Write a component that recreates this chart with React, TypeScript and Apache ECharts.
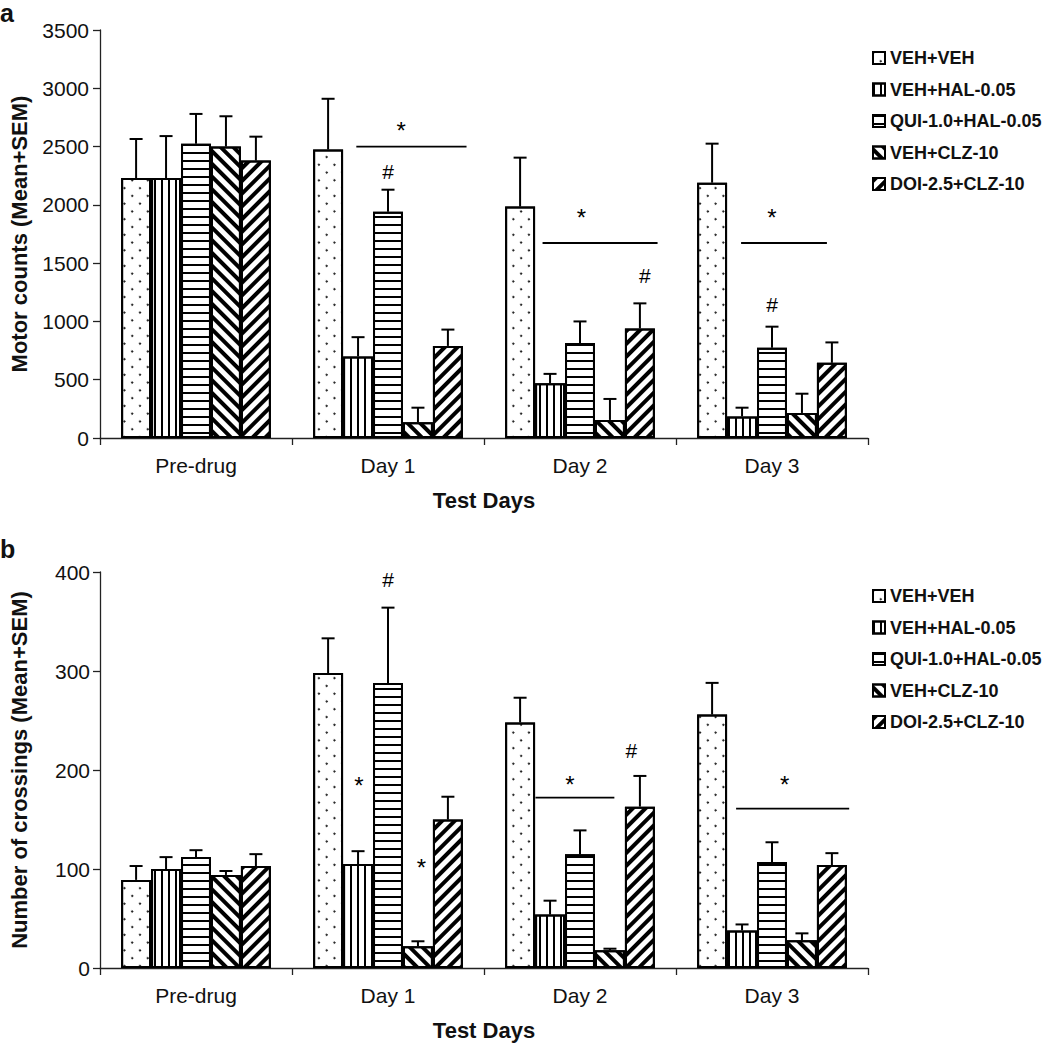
import React, { useEffect, useRef } from 'react';
import * as echarts from 'echarts';

const categories = ['Pre-drug', 'Day 1', 'Day 2', 'Day 3'];
const groups = ['VEH+VEH', 'VEH+HAL-0.05', 'QUI-1.0+HAL-0.05', 'VEH+CLZ-10', 'DOI-2.5+CLZ-10'];
const motorTicks = [0, 500, 1000, 1500, 2000, 2500, 3000, 3500];
const crossingTicks = [0, 100, 200, 300, 400];

// Panel a: motor counts (mean, SEM)
const motorVehVeh = [2230, 2475, 1985, 2190];
const motorVehHal = [2230, 700, 470, 185];
const motorQuiHal = [2525, 1940, 815, 775];
const motorVehClz = [2500, 135, 155, 215];
const motorDoiClz = [2380, 790, 940, 645];
const motorSemVehVeh = [335, 435, 420, 335];
const motorSemVehHal = [360, 165, 80, 75];
const motorSemQuiHal = [255, 190, 185, 180];
const motorSemVehClz = [260, 125, 180, 165];
const motorSemDoiClz = [205, 140, 215, 175];

// Panel b: number of crossings (mean, SEM)
const crossVehVeh = [89, 298, 248, 256];
const crossVehHal = [100, 105, 54, 38];
const crossQuiHal = [112, 288, 115, 107];
const crossVehClz = [94, 22, 18, 28];
const crossDoiClz = [103, 150, 163, 104];
const crossSemVehVeh = [14, 35, 25, 32];
const crossSemVehHal = [12, 13, 14, 6];
const crossSemQuiHal = [7, 76, 24, 20];
const crossSemVehClz = [4, 5, 1.5, 7];
const crossSemDoiClz = [12, 23, 31, 12];

// Significance annotations, in data units (x: category index scale)
const motorStars = [[1.068, 2640], [2.007, 1895], [3.0, 1895]];
const motorHashes = [[1.0, 2282], [2.338, 1398], [3.0, 1141]];
const motorSigLines = [[0.835, 1.409, 2500], [1.805, 2.404, 1673], [2.839, 3.286, 1673]];
const crossStars = [[0.849, 184], [1.174, 102], [1.947, 185], [3.066, 185]];
const crossHashes = [[1.0, 392], [2.268, 220]];
const crossSigLines = [[1.768, 2.179, 172], [2.813, 3.402, 161]];

const FONT = '"Liberation Sans", Arial, Helvetica, sans-serif';
const INK = '#111';
const GAP = 0.22;

const decals: any[] = [
  { symbol: 'circle', symbolSize: 1, dashArrayX: [2, 8.6], dashArrayY: [2, 8.6], rotation: Math.PI / 4, color: '#000', backgroundColor: '#fff' },
  { symbol: 'rect', symbolSize: 1, dashArrayX: [2, 5], dashArrayY: [10, 0], color: '#000', backgroundColor: '#fff' },
  { symbol: 'rect', symbolSize: 1, dashArrayX: [10, 0], dashArrayY: [2, 5.3], color: '#000', backgroundColor: '#fff' },
  { symbol: 'rect', symbolSize: 1, dashArrayX: [10, 0], dashArrayY: [3.6, 5], rotation: Math.PI / 4, color: '#000', backgroundColor: '#fff' },
  { symbol: 'rect', symbolSize: 1, dashArrayX: [10, 0], dashArrayY: [3.6, 5], rotation: -Math.PI / 4, color: '#000', backgroundColor: '#fff' },
];

const motorMeans = [motorVehVeh, motorVehHal, motorQuiHal, motorVehClz, motorDoiClz];
const motorSems = [motorSemVehVeh, motorSemVehHal, motorSemQuiHal, motorSemVehClz, motorSemDoiClz];
const crossMeans = [crossVehVeh, crossVehHal, crossQuiHal, crossVehClz, crossDoiClz];
const crossSems = [crossSemVehVeh, crossSemVehHal, crossSemQuiHal, crossSemVehClz, crossSemDoiClz];

function errorRender(params: any, api: any) {
  const cat = api.value(0);
  const k = api.value(1);
  const mean = api.value(2);
  const top = api.value(3);
  const band = api.size([1, 0])[0];
  const bw = (band * (1 - GAP)) / groups.length;
  const p0 = api.coord([cat, mean]);
  const p1 = api.coord([cat, top]);
  const x = p0[0] + (k - (groups.length - 1) / 2) * bw;
  const st = { stroke: '#000', lineWidth: 2 };
  return {
    type: 'group',
    children: [
      { type: 'line', shape: { x1: x, y1: p0[1], x2: x, y2: p1[1] }, style: st },
      { type: 'line', shape: { x1: x - 6.5, y1: p1[1], x2: x + 6.5, y2: p1[1] }, style: st },
    ],
  };
}

function panelSeries(means: number[][], sems: number[][], stars: number[][], hashes: number[][], lines: number[][], axisBase: number) {
  const catAxis = axisBase * 2;
  const valAxis = axisBase * 2 + 1;
  const s: any[] = [];
  means.forEach((m, k) => {
    s.push({
      type: 'bar',
      name: groups[k],
      xAxisIndex: catAxis,
      yAxisIndex: axisBase,
      data: m,
      barGap: '0%',
      barCategoryGap: GAP * 100 + '%',
      itemStyle: { color: '#fff', borderColor: '#000', borderWidth: 2, decal: decals[k] },
      emphasis: { disabled: true },
      z: 2,
    });
  });
  const errData: number[][] = [];
  means.forEach((m, k) => m.forEach((v, c) => errData.push([c, k, v, v + sems[k][c]])));
  s.push({
    type: 'custom',
    xAxisIndex: catAxis,
    yAxisIndex: axisBase,
    data: errData,
    encode: { x: 0, y: 3 },
    renderItem: errorRender,
    z: 3,
    silent: true,
  });
  lines.forEach((l) => {
    s.push({
      type: 'line',
      xAxisIndex: valAxis,
      yAxisIndex: axisBase,
      data: [[l[0], l[2]], [l[1], l[2]]],
      symbol: 'none',
      lineStyle: { color: '#000', width: 1.8 },
      silent: true,
      z: 4,
    });
  });
  const txt = (pts: number[][], t: string, size: number) =>
    pts.map((p) => ({ value: [p[0], p[1]], label: { formatter: t, fontSize: size } }));
  s.push({
    type: 'scatter',
    xAxisIndex: valAxis,
    yAxisIndex: axisBase,
    symbolSize: 1,
    itemStyle: { color: 'rgba(255,255,255,0)' },
    data: [...txt(stars, '*', 24), ...txt(hashes, '#', 21)],
    label: { show: true, position: 'inside', fontFamily: FONT, color: '#000', opacity: 1 },
    silent: true,
    z: 5,
  });
  return s;
}

function catAxis(gridIndex: number) {
  return {
    type: 'category',
    gridIndex,
    data: categories,
    name: 'Test Days',
    nameLocation: 'middle',
    nameGap: 51,
    nameTextStyle: { fontFamily: FONT, fontSize: 22, fontWeight: 'bold', color: INK },
    axisLine: { onZero: false, lineStyle: { color: '#222', width: 1.3 } },
    axisTick: { show: true, length: 7, lineStyle: { color: '#222', width: 1.3 } },
    axisLabel: { fontFamily: FONT, fontSize: 21, color: INK, margin: 17 },
    splitLine: { show: false },
  };
}

function valXAxis(gridIndex: number) {
  return { type: 'value', gridIndex, min: -0.5, max: 3.5, show: false, axisLine: { onZero: false } };
}

function yAxis(gridIndex: number, name: string, max: number, interval: number, margin: number) {
  return {
    type: 'value',
    gridIndex,
    min: 0,
    max,
    interval,
    name,
    nameLocation: 'middle',
    nameGap: 70,
    nameTextStyle: { fontFamily: FONT, fontSize: 22, fontWeight: 'bold', color: INK },
    axisLine: { show: true, onZero: false, lineStyle: { color: '#222', width: 1.3 } },
    axisTick: { show: true, length: 7, lineStyle: { color: '#222', width: 1.3 } },
    axisLabel: { fontFamily: FONT, fontSize: 21, color: INK, margin, formatter: (v: number) => String(v) },
    splitLine: { show: false },
  };
}

function legend(top: number) {
  return {
    orient: 'vertical',
    left: 867,
    top,
    itemWidth: 12,
    itemHeight: 12,
    itemGap: 13.5,
    icon: 'rect',
    data: groups,
    selectedMode: false,
    textStyle: { fontFamily: FONT, fontSize: 18, fontWeight: 'bold', color: INK, lineHeight: 18 },
  };
}

export default function App() {
  const ref = useRef<HTMLDivElement>(null);
  useEffect(() => {
    if (!ref.current) return;
    const chart = echarts.init(ref.current, null, { renderer: 'svg' });
    const option: any = {
      animation: false,
      backgroundColor: '#fff',
      title: [
        { text: 'a', left: 0, top: 1, padding: 0, textStyle: { fontFamily: FONT, fontSize: 25, fontWeight: 'bold', color: INK, lineHeight: 24 } },
        { text: 'b', left: 0, top: 537, padding: 0, textStyle: { fontFamily: FONT, fontSize: 25, fontWeight: 'bold', color: INK, lineHeight: 24 } },
      ],
      legend: [legend(44), legend(582)],
      grid: [
        { left: 95, top: 30, width: 773, height: 408 },
        { left: 94, top: 572, width: 774, height: 396 },
      ],
      xAxis: [catAxis(0), valXAxis(0), catAxis(1), valXAxis(1)],
      yAxis: [
        yAxis(0, 'Motor counts (Mean+SEM)', motorTicks[motorTicks.length - 1], motorTicks[1] - motorTicks[0], 11),
        yAxis(1, 'Number of crossings (Mean+SEM)', crossingTicks[crossingTicks.length - 1], crossingTicks[1] - crossingTicks[0], 10),
      ],
      series: [
        ...panelSeries(motorMeans, motorSems, motorStars, motorHashes, motorSigLines, 0),
        ...panelSeries(crossMeans, crossSems, crossStars, crossHashes, crossSigLines, 1),
      ],
    };
    chart.setOption(option);
    return () => chart.dispose();
  }, []);
  return <div ref={ref} style={{ position: 'fixed', left: 0, top: 0, width: 1042, height: 1050 }} />;
}
